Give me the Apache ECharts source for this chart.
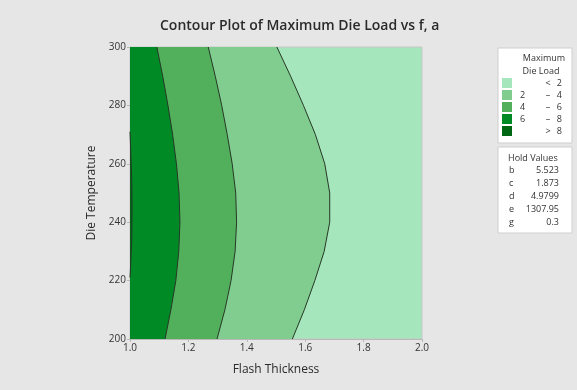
<!DOCTYPE html>
<html><head><meta charset="utf-8">
<script src="https://cdn.jsdelivr.net/npm/echarts@6/dist/echarts.min.js"></script>
<style>html,body{margin:0;padding:0;background:#e6e6e6}#c{width:577px;height:390px}</style>
</head><body><div id="c"></div>
<script>
// Die temperature levels at which each contour boundary is sampled
const temps = [300, 290, 280, 270, 260, 250, 240, 230, 220, 210, 200];
// Flash thickness of each contour line (Maximum Die Load = level) at each temperature
const contour2 = [1.503, 1.550, 1.594, 1.635, 1.667, 1.684, 1.684, 1.665, 1.633, 1.597, 1.556];
const contour4 = [1.268, 1.292, 1.314, 1.333, 1.350, 1.362, 1.365, 1.360, 1.346, 1.325, 1.298];
const contour6 = [1.092, 1.112, 1.130, 1.146, 1.159, 1.168, 1.171, 1.167, 1.157, 1.140, 1.120];
// contour 8 only exists for a short stretch near f = 1.0
const temps8 = [271, 263, 254, 244, 234, 227, 221];
const contour8 = [1.000, 1.003, 1.006, 1.007, 1.006, 1.003, 1.000];

const legendLabels = [['', '<', '2'], ['2', '–', '4'], ['4', '–', '6'], ['6', '–', '8'], ['', '>', '8']];
const holdNames = ['b', 'c', 'd', 'e', 'g'];
const holdValues = ['5.523', '1.873', '4.9799', '1307.95', '0.3'];

const colors = ['#a6e6bc', '#80cd8f', '#52b05c', '#008a26', '#006614'];
const FONT = 'Open Sans';

function curve(fs, ts) { return fs.map((f, i) => [f, ts[i]]); }

function regionSeries(fs, ts, color) {
  return {
    type: 'custom', coordinateSystem: 'cartesian2d', silent: true,
    data: [[1, 250]],
    renderItem: function (params, api) {
      const pts = curve(fs, ts).map(p => api.coord(p));
      const poly = [api.coord([1.0, ts[0]])].concat(pts, [api.coord([1.0, ts[ts.length - 1]])]);
      return {
        type: 'group', children: [
          { type: 'polygon', shape: { points: poly }, style: { fill: color } },
          { type: 'polyline', shape: { points: pts }, style: { stroke: '#263826', lineWidth: 1, fill: null } }
        ]
      };
    }
  };
}

const chart = echarts.init(document.getElementById('c'));
const g = [];
const txt = (x, y, s, align) => ({ type: 'text', x: x, y: y, style: { text: s, fontFamily: FONT, fontSize: 9, fill: '#333', align: align || 'left', verticalAlign: 'middle' } });
// legend box 1
g.push({ type: 'rect', shape: { x: 498, y: 48, width: 74, height: 95 }, style: { fill: '#fff', stroke: '#cfcfcf', lineWidth: 1 } });
g.push(txt(544, 58, 'Maximum', 'center'));
g.push(txt(541, 71, 'Die Load', 'center'));
const rowsY = [83, 95, 107, 119, 131];
legendLabels.forEach((lab, i) => {
  g.push({ type: 'rect', shape: { x: 502, y: rowsY[i] - 5, width: 10, height: 10 }, style: { fill: colors[i] } });
  g.push(txt(520, rowsY[i], lab[0]));
  g.push(txt(548, rowsY[i], lab[1], 'center'));
  g.push(txt(562, rowsY[i], lab[2], 'right'));
});
// hold values box
g.push({ type: 'rect', shape: { x: 498, y: 147, width: 74, height: 86 }, style: { fill: '#fff', stroke: '#cfcfcf', lineWidth: 1 } });
g.push(txt(508, 158, 'Hold Values'));
const holdY = [170, 183, 196, 209, 222];
holdNames.forEach((n, i) => {
  g.push(txt(509, holdY[i], n));
  g.push(txt(559, holdY[i], holdValues[i], 'right'));
});

chart.setOption({
  backgroundColor: '#e6e6e6',
  animation: false,
  title: { text: 'Contour Plot of Maximum Die Load vs f, a', left: 155, top: 14,
    textStyle: { fontFamily: FONT, fontSize: 14, fontWeight: 600, color: '#2a2a2a' } },
  grid: { left: 130, right: 155, top: 47, bottom: 51, show: true, backgroundColor: colors[0], borderColor: '#c8c8c8', borderWidth: 1 },
  xAxis: { type: 'value', min: 1, max: 2, interval: 0.2, name: 'Flash Thickness', nameLocation: 'middle', nameGap: 25,
    nameTextStyle: { fontFamily: FONT, fontSize: 12, color: '#2a2a2a', fontWeight: 500 },
    axisLine: { show: true, lineStyle: { color: '#b8b8b8' } },
    axisTick: { show: true, length: 3, lineStyle: { color: '#b8b8b8' } },
    axisLabel: { fontFamily: FONT, fontSize: 10, color: '#333', margin: 4, formatter: v => v.toFixed(1) },
    splitLine: { show: false } },
  yAxis: { type: 'value', min: 200, max: 300, interval: 20, name: 'Die Temperature', nameLocation: 'middle', nameGap: 31, nameRotate: 90,
    nameTextStyle: { fontFamily: FONT, fontSize: 12, color: '#2a2a2a', fontWeight: 500 },
    axisLine: { show: true, lineStyle: { color: '#b8b8b8' } },
    axisTick: { show: true, length: 3, lineStyle: { color: '#b8b8b8' } },
    axisLabel: { fontFamily: FONT, fontSize: 10, color: '#333', margin: 4 },
    splitLine: { show: false } },
  series: [
    regionSeries(contour2, temps, colors[1]),
    regionSeries(contour4, temps, colors[2]),
    regionSeries(contour6, temps, colors[3]),
    regionSeries(contour8, temps8, colors[4])
  ],
  graphic: g
});
</script></body></html>
